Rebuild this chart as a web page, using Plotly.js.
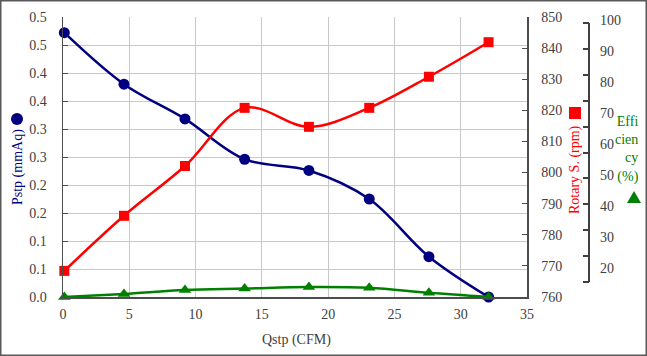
<!DOCTYPE html>
<html>
<head>
<meta charset="utf-8">
<script src="https://cdn.plot.ly/plotly-3.0.1.min.js"></script>
<style>html,body{margin:0;padding:0;background:#fff;}#chart{width:647px;height:356px;}</style>
</head>
<body>
<div id="chart"></div>
<script>
// Data
var qstp = [0.1, 4.6, 9.2, 13.7, 18.55, 23.1, 27.6, 32.1];          // Qstp (CFM)
var pstp = [0.472, 0.380, 0.318, 0.246, 0.226, 0.175, 0.072, 0.0];  // Pstp (mmAq)
var rotary = [768.4, 786.1, 802.1, 820.8, 814.7, 820.8, 830.8, 841.9]; // Rotary S. (rpm)
var efficiency = [0, 1.1, 2.5, 3.0, 3.6, 3.3, 1.5, 0];             // Efficiency (%)

var pTickVals = [0, 0.05, 0.1, 0.15, 0.2, 0.25, 0.3, 0.35, 0.4, 0.45, 0.5];
var pTickText = ['0.0','0.1','0.1','0.2','0.2','0.3','0.3','0.4','0.4','0.5','0.5'];
var effTickVals = [20, 30, 40, 50, 60, 70, 80, 90, 100];
var effAxisTicks = [0,1,2,3,4,5,6,7,8,9,10];

var serif = "'Liberation Serif'";
var tickFont = {family: serif, size: 14, color: '#404040'};
var grid = '#c8c8c8';
var axisLine = '#4d4d4d';

// layout geometry helpers (pixel -> paper)
var L = 63, W = 584, B = 297, H = 280;
function px(x){ return (x - L) / W; }
function py(y){ return (B - y) / H; }

var traces = [
  {x: qstp, y: efficiency, yaxis: 'y3', mode: 'lines+markers', name: 'Efficiency',
   line: {color: '#008000', width: 2.5, shape: 'spline', smoothing: 1},
   marker: {symbol: 'triangle-up', size: 11, color: '#008000'}, cliponaxis: false},
  {x: qstp, y: rotary, yaxis: 'y2', mode: 'lines+markers', name: 'Rotary S.',
   line: {color: '#ff0000', width: 2.5, shape: 'spline', smoothing: 1},
   marker: {symbol: 'square', size: 10, color: '#ff0000'}, cliponaxis: false},
  {x: qstp, y: pstp, yaxis: 'y', mode: 'lines+markers', name: 'Pstp',
   line: {color: '#000080', width: 2.5, shape: 'spline', smoothing: 1},
   marker: {symbol: 'circle', size: 11, color: '#000080'}, cliponaxis: false},
  {x: [], y: [], yaxis: 'y4', showlegend: false, hoverinfo: 'skip'},
  {x: [], y: [], yaxis: 'y5', showlegend: false, hoverinfo: 'skip'}
];

var layout = {
  width: 647, height: 356,
  margin: {l: L, r: 0, t: 17, b: 59, pad: 0},
  paper_bgcolor: '#fff', plot_bgcolor: '#fff',
  showlegend: false,
  font: {family: serif, size: 14, color: '#404040'},
  xaxis: {
    domain: [0, px(527)], range: [0, 35], dtick: 5, tick0: 0,
    showgrid: true, gridcolor: grid, gridwidth: 1,
    showline: true, linecolor: axisLine, linewidth: 1.5,
    ticks: '', zeroline: false, tickfont: tickFont, ticklabelstandoff: 4
  },
  yaxis: {
    range: [0, 0.5], tickvals: pTickVals, ticktext: pTickText,
    showgrid: true, gridcolor: grid, gridwidth: 1,
    showline: true, linecolor: axisLine, linewidth: 1.5,
    ticks: 'inside', ticklen: 5, tickcolor: axisLine,
    zeroline: false, tickfont: tickFont, ticklabelstandoff: 12
  },
  yaxis2: {
    overlaying: 'y', side: 'right', anchor: 'x', range: [760, 850], dtick: 10, tick0: 760,
    showgrid: false, showline: true, linecolor: axisLine, linewidth: 1.5,
    ticks: 'inside', ticklen: 5, tickcolor: axisLine,
    zeroline: false, tickfont: tickFont, ticklabelstandoff: 10
  },
  yaxis3: {
    overlaying: 'y', range: [0, 100], visible: false
  },
  yaxis4: {
    overlaying: 'y', side: 'right', anchor: 'free', position: px(589),
    range: [20 - 29/3.1, 100 + 3/3.1], tickvals: effTickVals,
    showgrid: false, showline: false, ticks: '', zeroline: false,
    tickfont: tickFont, ticklabelstandoff: 10
  },
  yaxis5: {
    overlaying: 'y', side: 'right', anchor: 'free', position: px(589),
    range: [-15/25.9, 10 + 6/25.9], tickvals: effAxisTicks,
    showgrid: false, showline: false, showticklabels: false,
    ticks: 'inside', ticklen: 6, tickcolor: '#404040', tickwidth: 2, zeroline: false
  },
  shapes: [
    {type: 'line', xref: 'paper', yref: 'paper', x0: px(589), x1: px(589), y0: py(282), y1: py(23),
     line: {color: '#404040', width: 2}},
    {type: 'rect', xref: 'paper', yref: 'paper', x0: px(0.75), x1: px(646.25), y0: py(355.25), y1: py(0.75),
     line: {color: '#595959', width: 1.5}},
    {type: 'circle', xref: 'paper', yref: 'paper', xsizemode: 'pixel', ysizemode: 'pixel',
     xanchor: px(17), yanchor: py(119), x0: -6, x1: 6, y0: -6, y1: 6,
     fillcolor: '#000080', line: {width: 0}},
    {type: 'rect', xref: 'paper', yref: 'paper', xsizemode: 'pixel', ysizemode: 'pixel',
     xanchor: px(575), yanchor: py(113), x0: -6, x1: 6, y0: -6, y1: 6,
     fillcolor: '#ff0000', line: {width: 0}},
    {type: 'path', xref: 'paper', yref: 'paper', xsizemode: 'pixel', ysizemode: 'pixel',
     xanchor: px(634), yanchor: py(197), path: 'M -7 -6 L 7 -6 L 0 6 Z',
     fillcolor: '#008000', line: {width: 0}}
  ],
  annotations: [
    {text: 'Pstp (mmAq)', xref: 'paper', yref: 'paper', x: px(18), y: py(167), textangle: -90,
     showarrow: false, xanchor: 'center', yanchor: 'middle', font: {family: serif, size: 14, color: '#000080'}},
    {text: 'Rotary S. (rpm)', xref: 'paper', yref: 'paper', x: px(575), y: py(170), textangle: -90,
     showarrow: false, xanchor: 'center', yanchor: 'middle', font: {family: serif, size: 14, color: '#ff0000'}},
    {text: 'Effi<br>cien<br>cy<br>(%)', xref: 'paper', yref: 'paper', x: px(641), y: py(149), align: 'right',
     showarrow: false, xanchor: 'right', yanchor: 'middle', font: {family: serif, size: 14, color: '#008000'}},
    {text: 'Qstp (CFM)', xref: 'paper', yref: 'paper', x: px(296), y: py(340),
     showarrow: false, xanchor: 'center', yanchor: 'middle', font: {family: serif, size: 14, color: '#404040'}}
  ]
};

Plotly.newPlot('chart', traces, layout, {displayModeBar: false, staticPlot: true});
</script>
</body>
</html>
